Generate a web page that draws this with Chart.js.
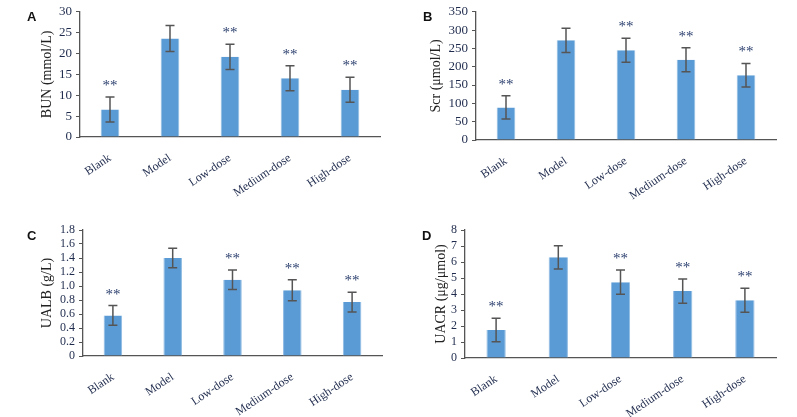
<!DOCTYPE html>
<html>
<head>
<meta charset="utf-8">
<script src="https://cdn.jsdelivr.net/npm/chart.js@4.4.1/dist/chart.umd.min.js"></script>
<style>
  body { margin: 0; background: #fff; }
  #wrap { position: relative; width: 797px; height: 417px; overflow: hidden; }
  .box { position: absolute; }
  .tag { position: absolute; font: bold 13px "Liberation Sans", Arial, sans-serif; color: #111; }
</style>
</head>
<body>
<div id="wrap">
  <div class="box" style="left:0;top:0;width:400px;height:207px"><canvas id="chartA"></canvas></div>
  <div class="box" style="left:400px;top:0;width:397px;height:207px"><canvas id="chartB"></canvas></div>
  <div class="box" style="left:0;top:207px;width:400px;height:210px"><canvas id="chartC"></canvas></div>
  <div class="box" style="left:400px;top:207px;width:397px;height:210px"><canvas id="chartD"></canvas></div>
  <div class="tag" style="left:27px;top:9px">A</div>
  <div class="tag" style="left:423px;top:9px">B</div>
  <div class="tag" style="left:27px;top:228px">C</div>
  <div class="tag" style="left:422px;top:228px">D</div>
</div>
<script>
// Groups
var groups = ['Blank', 'Model', 'Low-dose', 'Medium-dose', 'High-dose'];
var marks = ['**', '', '**', '**', '**'];

// A: BUN (mmol/L)
var bunMean = [6.6, 23.6, 19.2, 14.1, 11.3];
var bunErr = [3.0, 3.1, 3.0, 3.0, 3.0];

// B: Scr (umol/L)
var scrMean = [89, 272, 245, 219, 177];
var scrErr = [32, 33, 33, 33, 32];

// C: UALB (g/L)
var ualbMean = [0.58, 1.40, 1.09, 0.94, 0.77];
var ualbErr = [0.14, 0.14, 0.14, 0.15, 0.14];

// D: UACR (ug/umol)
var uacrMean = [1.75, 6.29, 4.74, 4.18, 3.61];
var uacrErr = [0.74, 0.73, 0.76, 0.76, 0.75];

var serif = '"Liberation Serif", "Times New Roman", serif';
var tickColor = '#1f2b4d';
var axisColor = '#555';

// Error bars and significance marks, drawn from the chart's own scales
var errorBarPlugin = {
    id: 'errorBars',
    afterDatasetsDraw: function(chart) {
        var ctx = chart.ctx;
        var xs = chart.scales.x, ys = chart.scales.y;
        var ds = chart.data.datasets[0];
        ctx.save();
        ctx.strokeStyle = '#555';
        ctx.lineWidth = 1.5;
        ds.data.forEach(function(v, i) {
            var e = ds.errors[i];
            var x = xs.getPixelForValue(i);
            var top = ys.getPixelForValue(v + e);
            var bot = ys.getPixelForValue(v - e);
            ctx.beginPath();
            ctx.moveTo(x, top); ctx.lineTo(x, bot);
            ctx.moveTo(x - 4.5, top); ctx.lineTo(x + 4.5, top);
            ctx.moveTo(x - 4.5, bot); ctx.lineTo(x + 4.5, bot);
            ctx.stroke();
            if (ds.marks[i]) {
                ctx.fillStyle = '#2b3f6e';
                ctx.font = '15px ' + serif;
                ctx.textAlign = 'center';
                ctx.textBaseline = 'alphabetic';
                ctx.fillText(ds.marks[i], x, top - 7);
            }
        });
        ctx.restore();
    }
};

function makeChart(id, title, values, errors, maxY, step, yWidth, titlePad, pad, xHeight, tickSize, fmt) {
    var ctx = document.getElementById(id).getContext('2d');
    return new Chart(ctx, {
        type: 'bar',
        data: {
            labels: groups,
            datasets: [{
                data: values,
                errors: errors,
                marks: marks,
                backgroundColor: '#5b9bd5',
                borderColor: '#8fbbe3',
                borderWidth: { left: 1, right: 1, top: 0, bottom: 0 },
                barPercentage: 0.31,
                categoryPercentage: 1.0
            }]
        },
        options: {
            responsive: true,
            maintainAspectRatio: false,
            animation: false,
            layout: { padding: pad },
            plugins: {
                legend: { display: false },
                tooltip: { enabled: false }
            },
            scales: {
                x: {
                    grid: { display: false },
                    border: { display: true, color: axisColor, width: 1.3 },
                    ticks: {
                        color: tickColor,
                        font: { family: serif, size: 12 },
                        minRotation: 34,
                        maxRotation: 34,
                        autoSkip: false,
                        padding: 6
                    },
                    afterFit: function(scale) { scale.height = xHeight; }
                },
                y: {
                    min: 0,
                    max: maxY,
                    grid: { drawOnChartArea: false, drawTicks: true, tickLength: 4, color: axisColor },
                    border: { display: true, color: axisColor, width: 1.3 },
                    ticks: {
                        stepSize: step,
                        autoSkip: false,
                        color: tickColor,
                        font: { family: serif, size: tickSize },
                        padding: 4,
                        callback: fmt
                    },
                    title: {
                        display: true,
                        text: title,
                        color: '#222',
                        font: { family: serif, size: 14 },
                        padding: { top: titlePad, bottom: 0 }
                    },
                    afterFit: function(scale) { scale.width = yWidth; }
                }
            }
        },
        plugins: [errorBarPlugin]
    });
}

function plain(v) { return v; }
function oneDecimal(v) { return v === 0 ? '0' : v.toFixed(1); }

makeChart('chartA', 'BUN (mmol/L)', bunMean, bunErr, 30, 5, 80, 39,
    { top: 11, right: 20, left: 0, bottom: 0 }, 70, 13, plain);
makeChart('chartB', 'Scr (\u03bcmol/L)', scrMean, scrErr, 350, 50, 76, 28,
    { top: 10, right: 21, left: 0, bottom: 0 }, 67, 13, plain);
makeChart('chartC', 'UALB (g/L)', ualbMean, ualbErr, 1.8, 0.2, 83, 39,
    { top: 23, right: 18, left: 0, bottom: 0 }, 61, 12, oneDecimal);
makeChart('chartD', 'UACR (\u03bcg/\u03bcmol)', uacrMean, uacrErr, 8, 1, 65, 33,
    { top: 23, right: 21, left: 0, bottom: 0 }, 59, 12, plain);
</script>
</body>
</html>
